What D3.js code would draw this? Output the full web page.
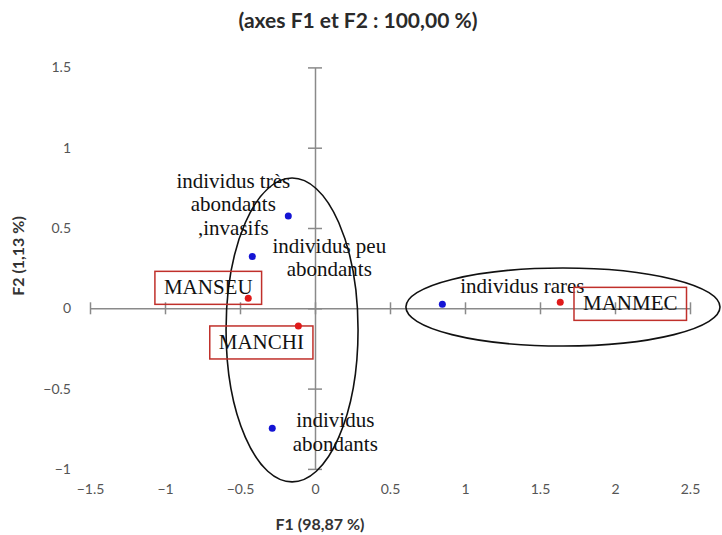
<!DOCTYPE html>
<html><head><meta charset="utf-8">
<script src="https://cdn.jsdelivr.net/npm/d3@7"></script>
<style>
body{margin:0;background:#fff;}
svg{display:block;}
</style>
</head><body>
<svg id="chart" width="722" height="535"></svg>
<script>
// ---- data ----
const xTicks = [-1.5, -1, -0.5, 0, 0.5, 1, 1.5, 2, 2.5];
const yTicks = [-1, -0.5, 0, 0.5, 1, 1.5];
// observations (individus) – blue
const obsNames = [["individus très", "abondants", ",invasifs"], ["individus peu", "abondants"], ["individus", "abondants"], ["individus rares"]];
const obsF1 = [-0.178, -0.418, -0.285, 0.849];
const obsF2 = [0.575, 0.322, -0.747, 0.025];
// variables (sites) – red
const varNames = ["MANSEU", "MANCHI", "MANMEC"];
const varF1 = [-0.445, -0.111, 1.635];
const varF2 = [0.062, -0.110, 0.037];
// grouping ellipses (centre F1, centre F2, half-width, half-height)
const ellCx = [-0.153, 1.653];
const ellCy = [-0.135, 0.008];
const ellRx = [0.44, 1.047];
const ellRy = [0.946, 0.243];

// ---- layout (label offsets in px) ----
const obsLabelOffset = [[-55, -35], [77, -11], [63, -8], [80, -18]];
const varLabelOffset = [[-40, -11], [-37, 16], [70, 1]];

const svg = d3.select("#chart");
const x = d3.scaleLinear().domain([-1.5, 2.5]).range([90, 690]);
const y = d3.scaleLinear().domain([-1, 1.5]).range([468.9, 67.4]);
const axisColor = "#8a8a8a";
const labelColor = "#555";
const tickFont = "Lato, 'Open Sans', sans-serif";

// title
svg.append("text").attr("x", 358).attr("y", 19)
  .attr("text-anchor", "middle").attr("dominant-baseline", "central")
  .style("font-family", tickFont).style("font-weight", "bold").style("font-size", "21px")
  .attr("fill", "#2a2a2a").text("(axes F1 et F2 : 100,00 %)");

// x axis line at F2 = 0
const xAxis = svg.append("g").attr("transform", `translate(0,${y(0)})`)
  .call(d3.axisBottom(x).tickValues(xTicks).tickFormat("").tickSizeInner(6).tickSizeOuter(0));
xAxis.selectAll(".tick line").attr("y1", -6).attr("y2", 6);
xAxis.selectAll("line,path").attr("stroke", axisColor).attr("stroke-width", 1.5);

// y axis line at F1 = 0
const yAxis = svg.append("g").attr("transform", `translate(${x(0)},0)`)
  .call(d3.axisLeft(y).tickValues(yTicks).tickFormat("").tickSizeInner(7).tickSizeOuter(0));
yAxis.selectAll(".tick line").attr("x1", -7).attr("x2", 7);
yAxis.selectAll("line,path").attr("stroke", axisColor).attr("stroke-width", 1.5);

// x tick labels at bottom
const xLab = svg.append("g").attr("transform", "translate(0,484)")
  .call(d3.axisBottom(x).tickValues(xTicks).tickFormat(d3.format("")).tickSize(0).tickPadding(0));
xLab.select(".domain").remove();
xLab.selectAll("text").attr("fill", labelColor).style("font-family", tickFont).style("font-size", "14px");

// y tick labels at left
const yLab = svg.append("g").attr("transform", "translate(71,0)")
  .call(d3.axisLeft(y).tickValues(yTicks).tickFormat(d3.format("")).tickSize(0).tickPadding(0));
yLab.select(".domain").remove();
yLab.selectAll("text").attr("fill", labelColor).style("font-family", tickFont).style("font-size", "14px");

// axis titles
svg.append("text").attr("x", 320).attr("y", 523)
  .attr("text-anchor", "middle").attr("dominant-baseline", "central")
  .style("font-family", tickFont).style("font-weight", "bold").style("font-size", "16px")
  .attr("fill", "#333").text("F1 (98,87 %)");
svg.append("text").attr("transform", "translate(17,256) rotate(-90)")
  .attr("text-anchor", "middle").attr("dominant-baseline", "central")
  .style("font-family", tickFont).style("font-weight", "bold").style("font-size", "16px")
  .attr("fill", "#333").text("F2 (1,13 %)");

// ellipses
svg.append("g").selectAll("ellipse").data(ellCx).join("ellipse")
  .attr("cx", (d) => x(d)).attr("cy", (d, i) => y(ellCy[i]))
  .attr("rx", (d, i) => x(ellRx[i]) - x(0)).attr("ry", (d, i) => y(0) - y(ellRy[i]))
  .attr("fill", "none").attr("stroke", "#111").attr("stroke-width", 1.6);

const serif = "'Liberation Serif', 'Times New Roman', serif";

// observation labels
obsNames.forEach((lines, i) => {
  const cx = x(obsF1[i]) + obsLabelOffset[i][0];
  const cy = y(obsF2[i]) + obsLabelOffset[i][1];
  const t = svg.append("text").attr("text-anchor", "middle")
    .style("font-family", serif).style("font-size", "21px").attr("fill", "#111");
  lines.forEach((ln, k) => {
    t.append("tspan").attr("x", cx).attr("y", cy + k * 23.5)
      .attr("dominant-baseline", "central").text(ln);
  });
});

// variable labels with red boxes
varNames.forEach((name, i) => {
  const cx = x(varF1[i]) + varLabelOffset[i][0];
  const cy = y(varF2[i]) + varLabelOffset[i][1];
  const g = svg.append("g");
  const t = g.append("text").attr("x", cx).attr("y", cy)
    .attr("text-anchor", "middle").attr("dominant-baseline", "central")
    .style("font-family", serif).style("font-size", "21px").attr("fill", "#111").text(name);
  const bb = t.node().getBBox();
  g.insert("rect", "text").attr("x", cx - bb.width / 2 - 9).attr("y", cy - 16)
    .attr("width", bb.width + 18).attr("height", 33)
    .attr("fill", "none").attr("stroke", "#c0302b").attr("stroke-width", 1.5);
});

// points
svg.append("g").selectAll("circle").data(obsF1).join("circle")
  .attr("cx", (d) => x(d)).attr("cy", (d, i) => y(obsF2[i])).attr("r", 3.5).attr("fill", "#1414d4");
svg.append("g").selectAll("circle").data(varF1).join("circle")
  .attr("cx", (d) => x(d)).attr("cy", (d, i) => y(varF2[i])).attr("r", 3.5).attr("fill", "#e01a1a");
</script>
</body></html>
